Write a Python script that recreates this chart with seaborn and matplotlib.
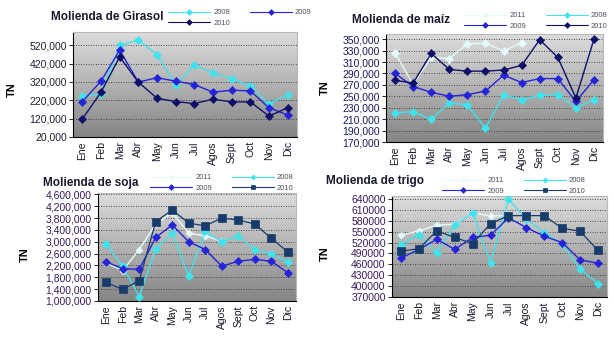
import numpy as np
import pandas as pd
import matplotlib
matplotlib.use("Agg")
import matplotlib.pyplot as plt
import seaborn as sns
from matplotlib.colors import LinearSegmentedColormap
from matplotlib.ticker import FixedLocator, FuncFormatter

sns.set_style("white")
plt.rcParams["font.family"] = ["Liberation Sans", "DejaVu Sans"]

meses = ["Ene", "Feb", "Mar", "Abr", "May", "Jun", "Jul", "Agos", "Sept", "Oct", "Nov", "Dic"]

girasol_2008 = [241000, 252000, 520000, 547000, 469000, 305000, 411000, 371000, 338000, 296000, 201000, 250000]
girasol_2009 = [213000, 324000, 493000, 319000, 343000, 324000, 306000, 264000, 275000, 271000, 179000, 140000]
girasol_2010 = [118000, 264000, 456000, 319000, 231000, 213000, 202000, 226000, 211000, 211000, 134000, 179000]

maiz_2011 = [326000, 271000, 318000, 316000, 342000, 343000, 329000, 344000]
maiz_2008 = [221000, 223000, 210000, 238000, 235000, 194000, 252000, 244000, 252000, 253000, 230000, 244000]
maiz_2009 = [290000, 267000, 257000, 250000, 253000, 259000, 287000, 274000, 281000, 281000, 241000, 279000]
maiz_2010 = [278000, 273000, 325000, 297000, 294000, 294000, 296000, 304000, 349000, 318000, 247000, 350000]

soja_2011 = [2280000, 2030000, 2740000, 3600000, 3990000, 3290000, 3200000, 3020000]
soja_2008 = [2920000, 2170000, 1150000, 2770000, 3290000, 1860000, 3350000, 3000000, 3200000, 2740000, 2600000, 2320000]
soja_2009 = [2320000, 2090000, 2070000, 3150000, 3570000, 3000000, 2740000, 2180000, 2340000, 2410000, 2340000, 1960000]
soja_2010 = [1630000, 1390000, 1690000, 3680000, 4080000, 3630000, 3540000, 3800000, 3740000, 3600000, 3120000, 2660000]

trigo_2011 = [540000, 552000, 568000, 570000, 602000, 593000, 594000]
trigo_2008 = [514000, 542000, 492000, 568000, 602000, 463000, 639000, 584000, 547000, 515000, 447000, 407000]
trigo_2009 = [477000, 501000, 529000, 501000, 534000, 540000, 588000, 561000, 537000, 520000, 472000, 463000]
trigo_2010 = [496000, 503000, 552000, 534000, 517000, 572000, 594000, 594000, 594000, 559000, 551000, 498000]

W, H = 614, 341
fig = plt.figure(figsize=(W / 100, H / 100), dpi=100)
fig.patch.set_facecolor("white")

grad = LinearSegmentedColormap.from_list("fondo", ["#858585", "#b2b2b2", "#dcdcdc"])

C2011 = "#e4fbfb"
C2008 = "#3fe3ee"
C2009 = "#2424d8"
C2010 = "#10106a"
C2010S = "#173c6c"


def add_axes_px(left, top, right, bottom):
    return fig.add_axes([left / W, 1 - bottom / H, (right - left) / W, (bottom - top) / H])


def draw_panel(ax, series, ylim, yticks, fmt, tick_color):
    ax.imshow(np.linspace(0, 1, 256).reshape(-1, 1), cmap=grad, origin="lower",
              extent=[0, 1, 0, 1], transform=ax.transAxes, aspect="auto", zorder=0)
    handles = {}
    for name, vals, color, marker, ms, lw, mec in series:
        pos = np.arange(len(vals))
        sns.lineplot(x=pos, y=vals, ax=ax, color=color, marker=marker, markersize=ms,
                     linewidth=lw, markeredgecolor=mec, markeredgewidth=0.5,
                     label=name, zorder=3, legend=False)
        handles[name] = ax.lines[-1]
    ax.set_xlim(-0.5, 11.5)
    ax.set_ylim(*ylim)
    ax.yaxis.set_major_locator(FixedLocator(yticks))
    ax.yaxis.set_major_formatter(FuncFormatter(fmt))
    for y in yticks[1:]:
        ax.axhline(y, color="#3a3a3a", linewidth=0.6, linestyle=(0, (1.2, 1.8)), zorder=1)
    ax.set_xticks(np.arange(len(meses)))
    ax.set_xticklabels(meses, rotation=90)
    ax.xaxis.set_minor_locator(FixedLocator(np.arange(-0.5, 12, 1)))
    ax.tick_params(axis="x", which="major", length=0, pad=3, labelsize=7.5, labelcolor="#1a1a2a")
    ax.tick_params(axis="x", which="minor", length=3, width=0.6, color="#000000", direction="out")
    ax.tick_params(axis="y", length=3, width=0.6, color="#000000", direction="out", pad=1.5,
                   labelsize=7.5, labelcolor=tick_color, left=True)
    ax.set_xlabel("")
    ax.set_ylabel("")
    for s in ["left", "bottom"]:
        ax.spines[s].set_color("#000000")
        ax.spines[s].set_linewidth(0.8)
    for s in ["top", "right"]:
        ax.spines[s].set_color("#b8b8b8")
        ax.spines[s].set_linewidth(0.8)
    return handles


def legend(ax, handles, order, anchor):
    leg = fig.legend([handles[k] for k in order], order, loc="center",
                     bbox_to_anchor=(anchor[0] / W, 1 - anchor[1] / H), ncol=2,
                     frameon=False, fontsize=5.5, handlelength=5.5, handletextpad=0.4,
                     columnspacing=2.6, labelspacing=0.45, borderpad=0, markerscale=0.65)
    for t in leg.get_texts():
        t.set_color("#505060")
    for ln in leg.get_lines():
        ln.set_linewidth(0.8)


def labels(title, tx, ty, nx, ny):
    fig.text(tx / W, 1 - ty / H, title, fontsize=8.5, fontweight="bold", color="#1a1a30",
             ha="left", va="center")
    fig.text(nx / W, 1 - ny / H, "TN", fontsize=8, fontweight="bold", color="#000000",
             rotation=90, ha="center", va="center")


comma = lambda v, p: f"{v:,.0f}"
plain = lambda v, p: f"{v:.0f}"

# Girasol
ax1 = add_axes_px(73, 32, 297, 137)
h1 = draw_panel(ax1, [
    ("2008", girasol_2008, C2008, "D", 4.5, 1.0, C2008),
    ("2009", girasol_2009, C2009, "D", 4.5, 1.0, C2009),
    ("2010", girasol_2010, C2010, "D", 4.5, 1.0, C2010),
], (20000, 592000), list(range(20000, 520001, 100000)), comma, "#202030")
legend(ax1, h1, ["2008", "2010", "2009"], (240, 18))
labels("Molienda de Girasol", 51, 17, 12, 90)

# Maíz
ax2 = add_axes_px(386, 34, 603, 142)
h2 = draw_panel(ax2, [
    ("2011", maiz_2011, C2011, "D", 4.0, 1.0, C2011),
    ("2008", maiz_2008, C2008, "D", 4.5, 1.0, C2008),
    ("2009", maiz_2009, C2009, "D", 4.5, 1.0, C2009),
    ("2010", maiz_2010, C2010, "D", 4.5, 1.0, C2010),
], (170000, 359000), list(range(170000, 350001, 20000)), comma, "#1c1c5a")
legend(ax2, h2, ["2011", "2009", "2008", "2010"], (536, 21))
labels("Molienda de maíz", 352, 20, 325, 88)

# Soja
ax3 = add_axes_px(98, 193, 296, 301)
h3 = draw_panel(ax3, [
    ("2011", soja_2011, C2011, "D", 3.5, 1.0, C2011),
    ("2008", soja_2008, C2008, "D", 3.8, 1.0, C2008),
    ("2009", soja_2009, C2009, "D", 4.5, 1.0, C2009),
    ("2010", soja_2010, C2010S, "s", 5.5, 0.9, C2010S),
], (1000000, 4650000), list(range(1000000, 4600001, 400000)), comma, "#3a1a5a")
legend(ax3, h3, ["2011", "2009", "2008", "2010"], (222, 183))
labels("Molienda de soja", 43, 183, 25, 255)

# Trigo
ax4 = add_axes_px(392, 196, 607, 297)
h4 = draw_panel(ax4, [
    ("2011", trigo_2011, C2011, "D", 3.5, 1.0, C2011),
    ("2008", trigo_2008, C2008, "D", 3.8, 1.0, C2008),
    ("2009", trigo_2009, C2009, "D", 4.5, 1.0, C2009),
    ("2010", trigo_2010, C2010S, "s", 5.5, 0.9, C2010S),
], (370000, 648000), list(range(370000, 640001, 30000)), plain, "#3a1a5a")
legend(ax4, h4, ["2011", "2009", "2008", "2010"], (514, 186))
labels("Molienda de trigo", 326, 181, 325, 254)

fig.savefig("out.png", dpi=100)
